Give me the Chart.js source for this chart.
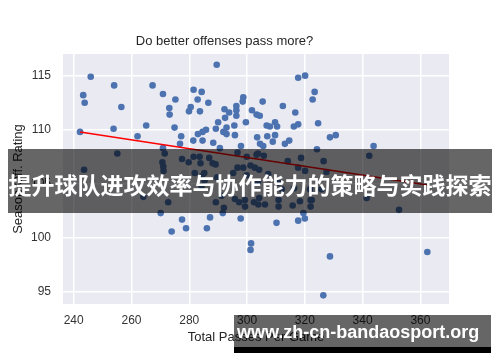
<!DOCTYPE html>
<html>
<head>
<meta charset="utf-8">
<script src="https://cdn.jsdelivr.net/npm/chart.js@4.4.1/dist/chart.umd.min.js"></script>
<style>
html, body { margin: 0; padding: 0; background: #fff; }
#wrap { position: relative; width: 500px; height: 362px; overflow: hidden; }
#banner {
    position: absolute; left: 8px; top: 149px; width: 484px; height: 64px;
    background: rgba(0, 0, 0, 0.6); color: #fff; text-align: center;
    font: bold 23px "Noto Sans CJK SC", sans-serif; line-height: 64px; white-space: nowrap;
}
#banner span { position: relative; top: 3px; }
#site {
    position: absolute; left: 234px; top: 315px; width: 257px; height: 32px;
    background: rgba(0, 0, 0, 0.6); border-bottom: 6px solid #000; color: #fff;
    font: bold 18px "Liberation Sans", Arial, sans-serif; line-height: 32px; white-space: nowrap;
}
#site span { position: relative; left: 3px; top: 1px; }
</style>
</head>
<body>
<div id="wrap">
    <canvas id="chart" width="500" height="362"></canvas>
    <div id="banner"><span>提升球队进攻效率与协作能力的策略与实践探索</span></div>
    <div id="site"><span>www.zh-cn-bandaosport.org</span></div>
</div>
<script>
// passes per game vs offensive rating, one entry per team season
const passX = [
    245.9, 243.3, 243.8, 254.0, 256.5, 267.3, 270.9, 275.2, 273.1, 273.2,
    281.5, 284.3, 282.9, 280.5, 279.9, 283.7, 286.6, 289.5, 292.2, 293.8,
    296.3, 296.3, 296.3, 298.7, 298.5, 301.7, 303.3, 304.4, 305.4, 312.4,
    316.7, 317.7, 320.1, 323.4, 322.7, 292.4,
    242.2, 253.8, 265.1, 262.1, 274.9, 277.2, 276.8, 281.4, 283.0, 290.0,
    289.2, 285.8, 284.6, 292.9, 291.8, 292.9, 295.6, 295.8, 299.6, 303.5,
    306.8, 307.9, 307.0, 309.7, 308.9, 305.6, 304.5, 313.1, 314.6, 316.2,
    317.7, 324.6, 328.7, 330.7, 343.8, 342.3, 324.2, 309.7, 310.4, 297.9,
    288.3, 290.6, 284.6,
    255.1, 270.9, 271.5, 270.7, 271.0, 271.1, 277.5, 279.8, 281.5, 243.6,
    281.9, 283.6, 283.9, 286.9, 288.1, 296.7, 299.9, 303.3, 289.1, 301.2,
    304.2, 296.7, 298.7, 285.2, 303.8, 305.8, 302.7, 307.3, 303.8, 310.8,
    312.0, 316.3, 321.8, 325.8, 322.4, 341.4, 352.6, 318.7, 314.1, 326.5,
    320.1, 317.7, 327.5, 284.3, 285.3, 284.4, 289.7, 295.2, 299.9,
    264.1, 272.7, 270.1, 277.5, 273.9, 278.9, 286.1, 287.2, 289.2, 292.0,
    291.2, 297.8, 295.8, 297.3, 291.6, 299.3, 299.3, 302.4, 303.9, 304.2,
    306.2, 310.9, 310.9, 315.8, 319.5, 322.0, 322.0, 318.3, 320.0, 317.7,
    310.2, 301.4, 301.2, 326.4, 328.7, 362.4
];
const offRating = [
    114.9, 113.2, 112.5, 114.1, 112.1, 114.1, 113.3, 112.8, 112.0, 111.4,
    113.7, 113.5, 112.8, 112.1, 111.7, 111.7, 112.5, 116.0, 111.9, 111.6,
    112.2, 111.8, 111.3, 113.0, 112.6, 111.8, 111.4, 111.3, 112.6, 112.2,
    111.6, 114.8, 115.0, 113.5, 112.8, 111.1,
    109.8, 110.1, 110.4, 109.4, 110.2, 109.4, 108.7, 109.0, 109.6, 110.7,
    110.1, 110.0, 109.8, 110.2, 109.8, 109.6, 110.4, 109.5, 110.7, 109.3,
    110.4, 110.3, 109.4, 109.5, 108.9, 108.5, 108.7, 108.7, 109.0, 110.3,
    110.5, 110.6, 109.3, 109.5, 108.5, 107.6, 108.2, 110.7, 110.3, 108.5,
    108.8, 108.3, 109.0,
    107.8, 108.3, 107.8, 107.0, 106.6, 106.2, 107.3, 107.0, 107.5, 106.3,
    106.0, 107.5, 106.9, 107.4, 106.9, 107.9, 107.5, 107.7, 106.8, 106.7,
    106.3, 106.5, 106.5, 106.0, 107.8, 107.6, 106.5, 105.9, 105.1, 105.1,
    104.5, 104.6, 104.5, 104.5, 103.5, 103.7, 102.6, 107.4, 107.1, 107.1,
    106.2, 106.5, 106.1, 104.8, 105.3, 105.7, 105.6, 106.0, 105.8,
    103.8, 103.3, 102.3, 101.7, 100.6, 100.9, 100.9, 101.9, 103.3, 102.8,
    103.9, 101.8, 103.6, 103.3, 102.3, 103.5, 102.9, 103.3, 103.1, 103.7,
    103.1, 103.5, 102.9, 103.0, 102.3, 103.5, 102.9, 103.4, 101.8, 101.6,
    101.4, 99.5, 98.9, 94.7, 98.3, 98.7
];
// fitted trend line at its two ends
const fitX = [242.2, 362.4];
const fitY = [109.8, 104.9];

const xTicks = [240, 260, 280, 300, 320, 340, 360];
const yTicks = [95, 100, 105, 110, 115];

Chart.defaults.font.family = "'Liberation Sans', Arial, sans-serif";
Chart.defaults.color = '#333';

const plotBg = {
    id: 'plotBg',
    beforeDraw(chart) {
        const {ctx, chartArea: a} = chart;
        ctx.save();
        ctx.fillStyle = '#EAEAF2';
        ctx.fillRect(a.left, a.top, a.right - a.left, a.bottom - a.top);
        ctx.restore();
    }
};

const points = passX.map((x, i) => ({x: x, y: offRating[i]}));
const fitLine = fitX.map((x, i) => ({x: x, y: fitY[i]}));

new Chart(document.getElementById('chart'), {
    type: 'scatter',
    data: {
        datasets: [
            {
                type: 'line',
                data: fitLine,
                borderColor: '#ff0000',
                borderWidth: 1.5,
                pointRadius: 0,
                fill: false,
                order: 0
            },
            {
                data: points,
                backgroundColor: '#4C72B0',
                borderWidth: 0,
                pointRadius: 3.3,
                order: 1
            }
        ]
    },
    options: {
        responsive: false,
        animation: false,
        layout: {padding: {left: 0, right: 51, top: 0, bottom: 0}},
        plugins: {
            legend: {display: false},
            tooltip: {enabled: false},
            title: {
                display: true,
                text: 'Do better offenses pass more?',
                color: '#262626',
                font: {size: 13, weight: 'normal'},
                padding: {top: 34, bottom: 4.4}
            }
        },
        scales: {
            x: {
                type: 'linear',
                min: 236.3,
                max: 369.9,
                afterBuildTicks: s => { s.ticks = xTicks.map(v => ({value: v})); },
                afterFit: s => { s.height = 58; },
                grid: {color: '#ffffff', lineWidth: 1.5, drawTicks: false},
                border: {display: false},
                ticks: {font: {size: 12}, padding: 9, color: '#333'},
                title: {display: true, text: 'Total Passes Per Game', color: '#262626',
                        font: {size: 13}, padding: {top: 0, bottom: 17}}
            },
            y: {
                min: 93.9,
                max: 117.0,
                afterBuildTicks: s => { s.ticks = yTicks.map(v => ({value: v})); },
                afterFit: s => { s.width = 63; },
                grid: {color: '#ffffff', lineWidth: 1.5, drawTicks: false},
                border: {display: false},
                ticks: {font: {size: 12}, padding: 12, color: '#333'},
                title: {display: true, text: 'Season Off. Rating', color: '#262626',
                        font: {size: 13}, padding: {top: 11, bottom: 0}}
            }
        }
    },
    plugins: [plotBg]
});
</script>
</body>
</html>
